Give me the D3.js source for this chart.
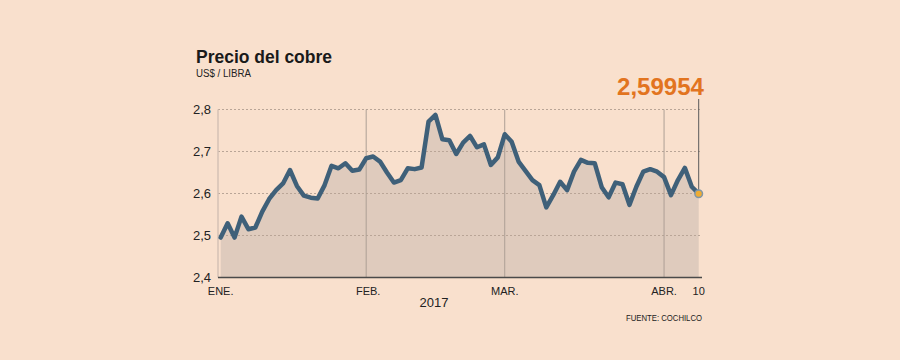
<!DOCTYPE html>
<html>
<head>
<meta charset="utf-8">
<script src="https://cdn.jsdelivr.net/npm/d3@7"></script>
<style>
  html, body { margin: 0; padding: 0; background: #f9e0cd; }
  svg { display: block; }
  text { font-family: "Liberation Sans", Arial, sans-serif; }
</style>
</head>
<body>
<svg id="chart" width="900" height="360"></svg>
<script>
// ---- Data ----
const title = "Precio del cobre";
const subtitle = "US$ / LIBRA";
const lastValueLabel = "2,59954";
const yearLabel = "2017";
const sourceLabel = "FUENTE: COCHILCO";

// daily copper price, US$/lb, trading days 3 Jan – 10 Apr 2017
const prices = [
  2.495, 2.529, 2.495, 2.545, 2.515, 2.519, 2.557, 2.587, 2.608, 2.624,
  2.656, 2.618, 2.595, 2.590, 2.588, 2.620, 2.666, 2.660, 2.672, 2.654,
  2.657, 2.684, 2.688, 2.676, 2.650, 2.626, 2.632, 2.660, 2.658, 2.662,
  2.771, 2.787, 2.729, 2.727, 2.694, 2.721, 2.737, 2.710, 2.717, 2.668,
  2.686, 2.741, 2.723, 2.676, 2.654, 2.632, 2.620, 2.567, 2.596, 2.628,
  2.608, 2.652, 2.680, 2.673, 2.672, 2.615, 2.591, 2.626, 2.622, 2.573,
  2.616, 2.652, 2.658, 2.652, 2.639, 2.596, 2.632, 2.661, 2.616, 2.59954
];

const monthLabels = ["ENE.", "FEB.", "MAR.", "ABR.", "10"];
const monthIndex  = [0, 21, 41, 64, 69];
const monthGridIndex = [21, 41, 64];

const yTicks = [2.4, 2.5, 2.6, 2.7, 2.8];
const yTickLabels = ["2,4", "2,5", "2,6", "2,7", "2,8"];

// ---- Drawing ----
const svg = d3.select("#chart");
const frameLeft = 218, frameRight = 702;

const x = d3.scaleLinear().domain([0, prices.length - 1]).range([220.7, 698.7]);
const y = d3.scaleLinear().domain([2.4, 2.8]).range([277.5, 109.5]);

// title / subtitle
svg.append("text").attr("x", 196).attr("y", 62.5)
  .attr("font-size", 19).attr("font-weight", "bold").attr("fill", "#1a1a1a")
  .attr("textLength", 136).attr("lengthAdjust", "spacingAndGlyphs")
  .text(title);
svg.append("text").attr("x", 196).attr("y", 77)
  .attr("font-size", 10).attr("fill", "#222")
  .attr("textLength", 55).attr("lengthAdjust", "spacingAndGlyphs")
  .text(subtitle);

// area
const area = d3.area().x((d, i) => x(i)).y0(y(2.4)).y1(d => y(d));
svg.append("path").datum(prices).attr("d", area).attr("fill", "#dfcbbd");

// horizontal dashed gridlines
svg.append("g").selectAll("line").data(yTicks.slice(1)).join("line")
  .attr("x1", frameLeft).attr("x2", frameRight)
  .attr("y1", d => y(d)).attr("y2", d => y(d))
  .attr("stroke", "#b9a597").attr("stroke-width", 1)
  .attr("stroke-dasharray", "2,2");

// left frame edge
svg.append("line").attr("x1", frameLeft).attr("x2", frameLeft)
  .attr("y1", y(2.8)).attr("y2", y(2.4))
  .attr("stroke", "#d5c2b4").attr("stroke-width", 1.5);

// vertical month gridlines
svg.append("g").selectAll("line").data(monthGridIndex).join("line")
  .attr("x1", d => x(d)).attr("x2", d => x(d))
  .attr("y1", y(2.8)).attr("y2", y(2.4))
  .attr("stroke", "#ad9f95").attr("stroke-width", 1);

// y tick labels
svg.append("g").selectAll("text").data(yTicks).join("text")
  .attr("x", 211).attr("y", d => y(d)).attr("dy", "0.35em")
  .attr("text-anchor", "end").attr("font-size", 13).attr("fill", "#222")
  .text((d, i) => yTickLabels[i]);

// line
const line = d3.line().x((d, i) => x(i)).y(d => y(d));
svg.append("path").datum(prices).attr("d", line)
  .attr("fill", "none").attr("stroke", "#3f6079")
  .attr("stroke-width", 4.5).attr("stroke-linejoin", "round").attr("stroke-linecap", "round");

// baseline axis
svg.append("line").attr("x1", frameLeft).attr("x2", frameRight)
  .attr("y1", y(2.4)).attr("y2", y(2.4))
  .attr("stroke", "#4a4a4a").attr("stroke-width", 1.5);

// x labels
svg.append("g").selectAll("text").data(monthLabels).join("text")
  .attr("x", (d, i) => x(monthIndex[i]) + (i === 1 ? 2 : 0)).attr("y", 295)
  .attr("text-anchor", "middle").attr("font-size", 11).attr("fill", "#222")
  .text(d => d);
svg.append("text").attr("x", 434).attr("y", 307)
  .attr("text-anchor", "middle").attr("font-size", 13).attr("fill", "#222")
  .text(yearLabel);
svg.append("text").attr("x", 702).attr("y", 321)
  .attr("text-anchor", "end").attr("font-size", 9).attr("fill", "#222")
  .attr("textLength", 76).attr("lengthAdjust", "spacingAndGlyphs")
  .text(sourceLabel);

// last value marker
const last = prices.length - 1;
svg.append("line").attr("x1", x(last)).attr("x2", x(last))
  .attr("y1", 99).attr("y2", y(prices[last]))
  .attr("stroke", "#5a5a5a").attr("stroke-width", 1);
svg.append("circle").attr("cx", x(last)).attr("cy", y(prices[last])).attr("r", 3.8)
  .attr("fill", "#f0ac32").attr("stroke", "#8196a6").attr("stroke-width", 1.5);
svg.append("text").attr("x", 704).attr("y", 94.5)
  .attr("text-anchor", "end").attr("font-size", 24).attr("font-weight", "bold")
  .attr("fill", "#e2741f")
  .attr("textLength", 87).attr("lengthAdjust", "spacingAndGlyphs")
  .text(lastValueLabel);
</script>
</body>
</html>
